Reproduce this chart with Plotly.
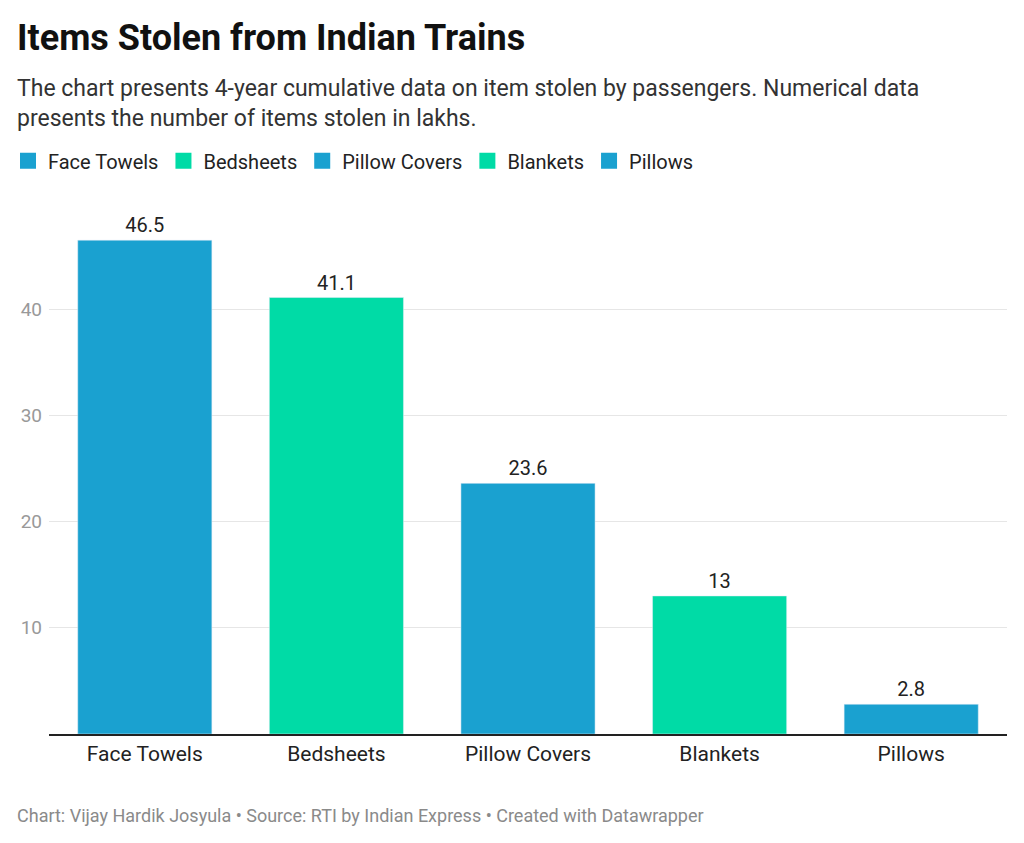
import plotly.graph_objects as go

# itens roubados (em lakhs)
categorias = ['Face Towels', 'Bedsheets', 'Pillow Covers', 'Blankets', 'Pillows']
valores = [46.5, 41.1, 23.6, 13, 2.8]
cores = ['#1aa1d0', '#00dba6', '#1aa1d0', '#00dba6', '#1aa1d0']
rotulos = ['46.5', '41.1', '23.6', '13', '2.8']

fig = go.Figure()
for cat, val, cor, rot in zip(categorias, valores, cores, rotulos):
    fig.add_trace(go.Bar(x=[cat], y=[val], name=cat, marker_color=cor, showlegend=False,
                         text=[rot], textposition='outside',
                         textfont=dict(size=20, color='#222'), cliponaxis=False))
    # entrada de legenda com quadrado maior
    fig.add_trace(go.Scatter(x=[None], y=[None], mode='markers', name=cat,
                             marker=dict(symbol='square', size=18, color=cor)))

fig.update_layout(
    width=1016, height=835, barmode='overlay', bargap=0.3,
    paper_bgcolor='white', plot_bgcolor='white',
    font=dict(family='Roboto', color='#222'),
    margin=dict(l=41, r=17, t=195, b=109),
    legend=dict(orientation='h', xref='container', yref='container', x=0.0, xanchor='left',
                y=0.817, yanchor='middle', font=dict(size=20), itemwidth=30,
                traceorder='normal'),
    xaxis=dict(categoryorder='array', categoryarray=categorias, showline=True,
               linecolor='#222', linewidth=1.5, tickfont=dict(size=21, color='#222'),
               ticks='', automargin=False),
    yaxis=dict(range=[0, 50], tickvals=[10, 20, 30, 40], showgrid=True,
               gridcolor='#e6e6e6', zeroline=False, tickfont=dict(size=19, color='#999'),
               ticklabelstandoff=6, automargin=False),
)

fig.add_annotation(text='<b>Items Stolen from Indian Trains</b>', xref='paper', yref='paper',
                   x=-0.036, y=1.0, xanchor='left', yanchor='top', yshift=188,
                   showarrow=False, font=dict(size=36, color='#111'))
fig.add_annotation(text='The chart presents 4-year cumulative data on item stolen by passengers. Numerical data<br>presents the number of items stolen in lakhs.',
                   xref='paper', yref='paper', x=-0.036, y=1.0, xanchor='left', yanchor='top',
                   yshift=130, showarrow=False, align='left', font=dict(size=23, color='#333'))
fig.add_annotation(text='Chart: Vijay Hardik Josyula • Source: RTI by Indian Express • Created with Datawrapper',
                   xref='paper', yref='paper', x=-0.036, y=0, xanchor='left', yanchor='middle',
                   yshift=-81, showarrow=False, font=dict(size=18, color='#8a8a8a'))

fig.write_html('out.html')
